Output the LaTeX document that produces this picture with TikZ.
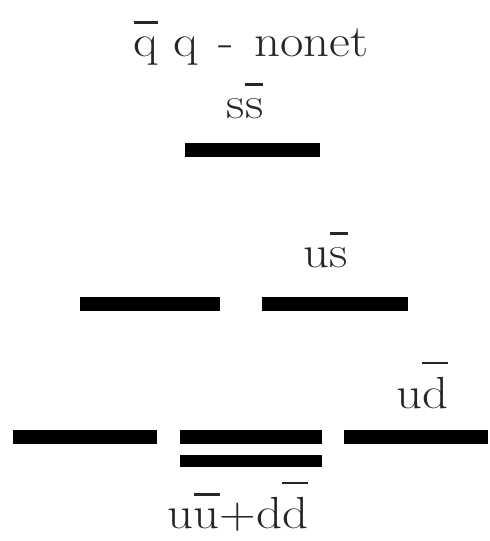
\documentclass[tikz,border=0pt]{standalone}
\newcommand{\obar}[1]{\leavevmode\setbox0\hbox{#1}\rlap{\raisebox{\dimexpr\ht0+0.28em\relax}{\rule{\wd0}{0.055em}}}\box0}
\newcommand{\wide}[1]{\scalebox{1.13}[1]{#1}}
\begin{document}
\begin{tikzpicture}[x=1pt,y=-1pt,
  bar/.style={rectangle,fill=black,inner sep=0pt,minimum height=14pt},
  lbl/.style={anchor=base,inner sep=0pt,text=black!85,font=\fontsize{45}{52}\selectfont}]
\useasboundingbox (0,0) rectangle (490,541);
\node[lbl] (title) at (251,56) {\wide{\obar{q}\hspace{0.3em}q \hspace{0.1em}-\hspace{0.1em} nonet}};
\node[lbl] (ss) at (245,118) {\wide{s\obar{s}}};
\node[bar,minimum width=135pt] (barss) at (252.5,150) {};
\node[lbl] (us) at (326,267) {\wide{u\obar{s}}};
\node[bar,minimum width=140pt] (barml) at (150,304) {};
\node[bar,minimum width=146pt] (barmr) at (335,304) {};
\node[lbl] (ud) at (422,408) {\wide{u\obar{d}}};
\node[bar,minimum width=144pt] (barbl) at (85,437) {};
\node[bar,minimum width=142pt] (barbm) at (251,437) {};
\node[bar,minimum width=142pt,minimum height=12pt] (barbm2) at (251,461) {};
\node[bar,minimum width=144pt] (barbr) at (416,437) {};
\node[lbl] (uudd) at (238,528) {\wide{u\obar{u}+d\obar{d}}};
\end{tikzpicture}
\end{document}
